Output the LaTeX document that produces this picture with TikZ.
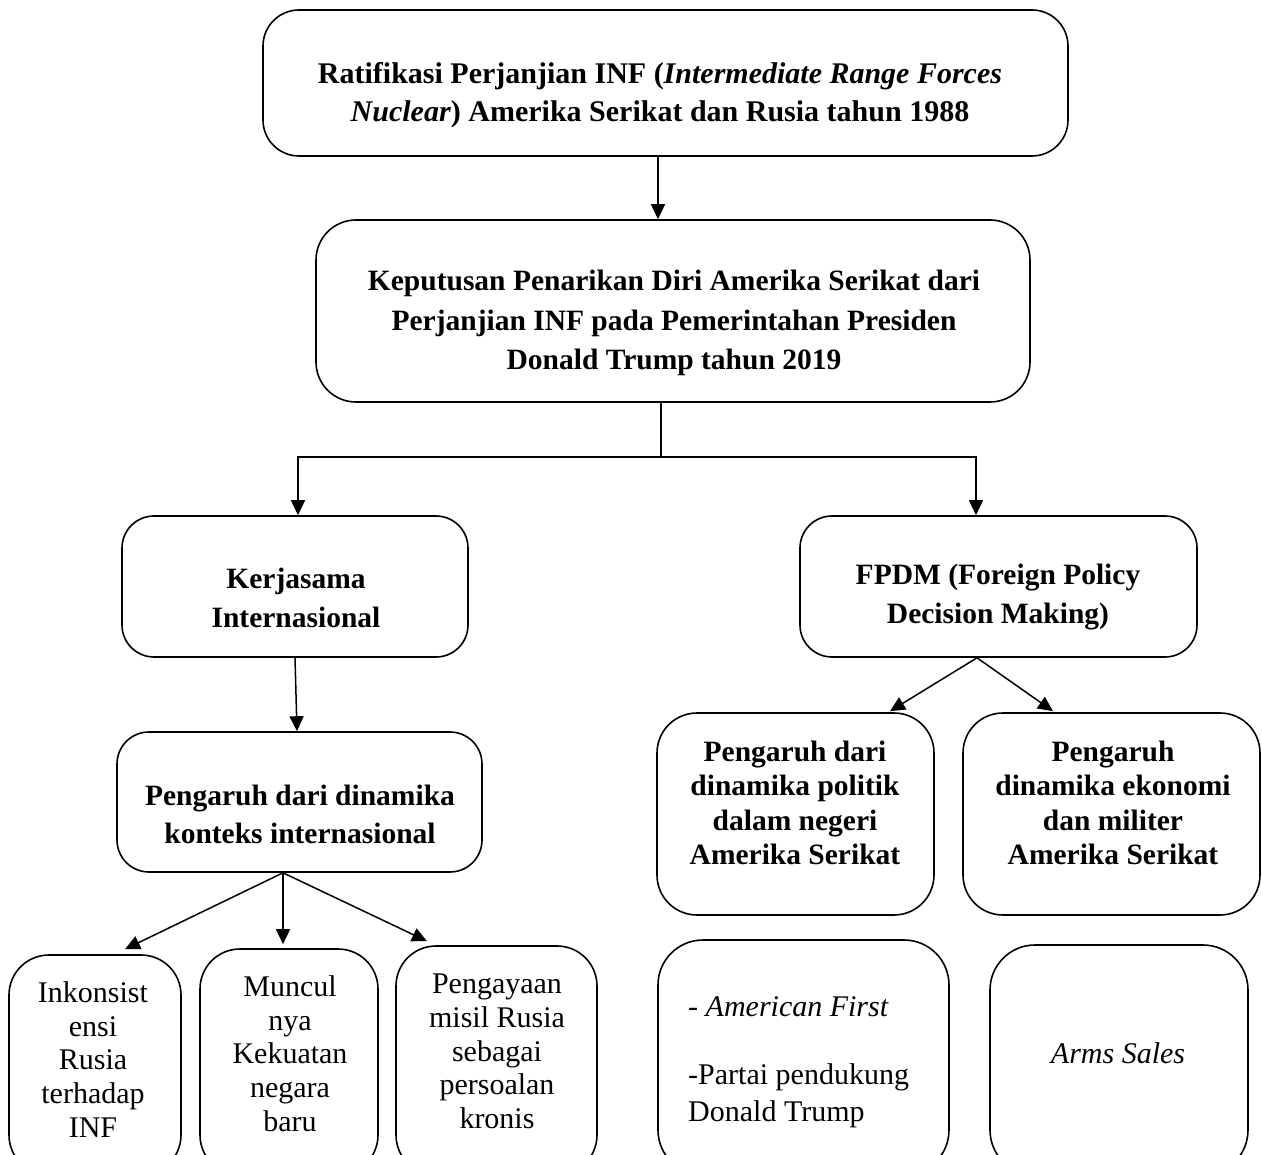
\documentclass[tikz,border=0pt]{standalone}
\usepackage{fontspec}
\setmainfont{Liberation Serif}
\usetikzlibrary{arrows.meta}
\begin{document}
\begin{tikzpicture}[x=1pt,y=-1pt,
  box/.style={draw,line width=1.6pt,rounded corners=#1,inner sep=0pt},
  box/.default=32pt,
  arr/.style={draw,line width=1.5pt,-{Triangle[length=15pt,width=14pt]}},
  conn/.style={draw,line width=1.5pt},
  btxt/.style={inner sep=0pt,align=center,font=\fontsize{29.5}{#1}\selectfont\bfseries},
  rtxt/.style={inner sep=0pt,align=center,font=\fontsize{30}{#1}\selectfont}]
\useasboundingbox (0,0) rectangle (1262,1155);
\fill[white] (0,0) rectangle (1262,1155);
\clip (0,0) rectangle (1262,1155);

% boxes
\node[box=36pt,minimum width=805pt,minimum height=146pt] (top) at (665.5,83) {};
\node[box=40pt,minimum width=714pt,minimum height=182pt] (b2) at (673,311) {};
\node[box,minimum width=346pt,minimum height=141pt] (b3) at (295,586.5) {};
\node[box,minimum width=397pt,minimum height=141pt] (b4) at (998.5,586.5) {};
\node[box,minimum width=365pt,minimum height=140pt] (b5) at (299.5,802) {};
\node[box=40pt,minimum width=277pt,minimum height=202pt] (b6) at (795.5,814) {};
\node[box=40pt,minimum width=297pt,minimum height=202pt] (b7) at (1111.5,814) {};
\node[box=40pt,minimum width=172pt,minimum height=220pt] (bA) at (95,1065) {};
\node[box=40pt,minimum width=178pt,minimum height=226pt] (bB) at (289,1062) {};
\node[box=40pt,minimum width=201pt,minimum height=229pt] (bC) at (496.5,1060.5) {};
\node[box=45pt,minimum width=291pt,minimum height=235pt] (b8) at (803.5,1057.5) {};
\node[box=45pt,minimum width=258pt,minimum height=230pt] (b9) at (1119,1060) {};

% texts
\node[btxt=38.5,font=\fontsize{30}{38.5}\selectfont\bfseries] (ttop) at (660,95) {Ratifikasi Perjanjian INF (\textit{Intermediate Range Forces}\\\textit{Nuclear}) Amerika Serikat dan Rusia tahun 1988};
\node[btxt=39.5] (t2) at (674,323) {Keputusan Penarikan Diri Amerika Serikat dari\\Perjanjian INF pada Pemerintahan Presiden\\Donald Trump tahun 2019};
\node[btxt=39] (t3) at (296,597.5) {Kerjasama\\Internasional};
\node[btxt=39] (t4) at (998,597.5) {FPDM (Foreign Policy\\Decision Making)};
\node[btxt=38] (t5) at (300,814) {Pengaruh dari dinamika\\konteks internasional};
\node[btxt=34.5] (t6) at (795,803) {Pengaruh dari\\dinamika politik\\dalam negeri\\Amerika Serikat};
\node[btxt=34.5] (t7) at (1113,803) {Pengaruh\\dinamika ekonomi\\dan militer\\Amerika Serikat};
\node[rtxt=33.75] (tA) at (93,1059.5) {Inkonsist\\ensi\\Rusia\\terhadap\\INF};
\node[rtxt=33.75] (tB) at (290,1053.5) {Muncul\\nya\\Kekuatan\\negara\\baru};
\node[rtxt=33.75] (tC) at (497,1051.5) {Pengayaan\\misil Rusia\\sebagai\\persoalan\\kronis};
\node[rtxt=37,align=left,anchor=west] (t8) at (688,1062) {- \textit{American First}\\[31pt]-Partai pendukung\\Donald Trump};
\node[rtxt=33] (t9) at (1118,1053) {\textit{Arms Sales}};

% connectors
\draw[arr] ([xshift=-7.5pt]top.south) -- ([xshift=-15pt]b2.north);
\coordinate (split) at ([xshift=-12pt,yshift=-54pt]b2.south);
\draw[conn] ([xshift=-12pt]b2.south) -- (split);
\draw[arr] (split) -| ([xshift=3pt]b3.north);
\draw[arr] (split) -| ([xshift=-22.5pt]b4.north);
\draw[arr] (b3.south) -- ([xshift=-2.5pt]b5.north);
\draw[arr] ([xshift=-16.5pt]b5.south) -- ([xshift=30pt,yshift=5pt]bA.north);
\draw[arr] ([xshift=-16.5pt]b5.south) -- ([xshift=-6pt,yshift=4pt]bB.north);
\draw[arr] ([xshift=-16.5pt]b5.south) -- ([xshift=-69.5pt,yshift=4pt]bC.north);
\draw[arr] ([xshift=-21.5pt]b4.south) -- ([xshift=94.5pt,yshift=1pt]b6.north);
\draw[arr] ([xshift=-21.5pt]b4.south) -- ([xshift=-58.5pt,yshift=1pt]b7.north);
\end{tikzpicture}
\end{document}
